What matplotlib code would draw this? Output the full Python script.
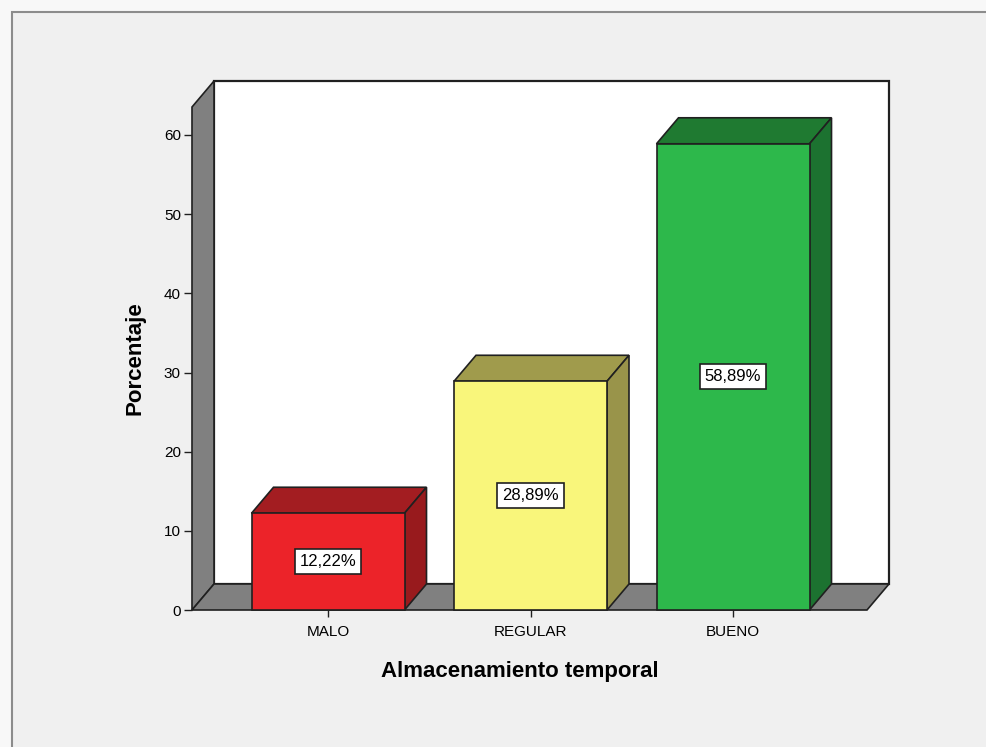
import matplotlib
matplotlib.use("Agg")
import matplotlib.pyplot as plt
from matplotlib.patches import Polygon, Rectangle

categories = ['MALO', 'REGULAR', 'BUENO']
values = [12.22, 28.89, 58.89]
value_labels = ['12,22%', '28,89%', '58,89%']
y_ticks = [0, 10, 20, 30, 40, 50, 60]

front_colors = ['#ec2329', '#f9f67b', '#2db84b']
top_colors = ['#a31d21', '#a09b4c', '#1f7a31']
side_colors = ['#981a1d', '#99944a', '#1c7230']

plt.rcParams['font.family'] = ['Liberation Sans', 'DejaVu Sans']

W, H = 986, 747
fig = plt.figure(figsize = (W / 100, H / 100), dpi = 100)
fig.patch.set_facecolor('#f8f8f8')

# outer panel, kept behind the axes
fig.patches.append(Rectangle((12 / W, -20 / H), 1.0, (H - 12 + 20) / H, transform = fig.transFigure,
                             facecolor = '#f0f0f0', edgecolor = '#8c8c8c', linewidth = 1.5, zorder = -10))

# front plane of the 3d box, in pixels
left, right, bottom, top = 192, 867, 610, 107
ax = fig.add_axes([left / W, (H - bottom) / H, (right - left) / W, (bottom - top) / H])
ax.set_facecolor('none')
for s in ax.spines.values():
    s.set_visible(False)

px_per_val = 475 / 60.0
spacing = 202.5
x0 = 1 - (328 - left) / spacing
x1 = 3 + (right - 733) / spacing
y_top = (bottom - top) / px_per_val
ax.set_xlim(x0, x1)
ax.set_ylim(0, y_top)

dx = 22 / spacing
dy = 26 / px_per_val
bar_w = 153 / spacing
edge = '#202020'

def poly(pts, fc, z, lw = 1.2):
    ax.add_patch(Polygon(pts, closed = True, facecolor = fc, edgecolor = edge, linewidth = lw,
                         clip_on = False, zorder = z))

# back wall, left wall, floor
poly([(x0 + dx, dy), (x1 + dx, dy), (x1 + dx, y_top + dy), (x0 + dx, y_top + dy)], 'white', 1, 1.6)
poly([(x0, 0), (x0, y_top), (x0 + dx, y_top + dy), (x0 + dx, dy)], '#808080', 2)
poly([(x0, 0), (x1, 0), (x1 + dx, dy), (x0 + dx, dy)], '#808080', 2)

for i, v in enumerate(values):
    c = i + 1
    a, b = c - bar_w / 2, c + bar_w / 2
    poly([(a, v), (b, v), (b + dx, v + dy), (a + dx, v + dy)], top_colors[i], 3)
    poly([(b, 0), (b + dx, dy), (b + dx, v + dy), (b, v)], side_colors[i], 3)
    poly([(a, 0), (b, 0), (b, v), (a, v)], front_colors[i], 4)
    ax.text(c, v / 2, value_labels[i], ha = 'center', va = 'center', fontsize = 12, zorder = 6,
            bbox = dict(boxstyle = 'square,pad=0.3', facecolor = 'white', edgecolor = '#202020', linewidth = 1.2))

ax.set_yticks(y_ticks)
ax.set_yticklabels([str(t) for t in y_ticks])
ax.set_xticks([1, 2, 3])
ax.set_xticklabels(categories)
ax.tick_params(axis = 'y', length = 6, width = 1, pad = 2, labelsize = 11, color = '#202020')
ax.tick_params(axis = 'x', length = 5, width = 1, pad = 6, labelsize = 11, color = '#202020')

ax.set_ylabel('Porcentaje', fontsize = 16, fontweight = 'bold', va = 'center')
ax.yaxis.set_label_coords((135 - left) / (right - left), (bottom - 358) / (bottom - top))
ax.set_xlabel('Almacenamiento temporal', fontsize = 16, fontweight = 'bold', va = 'center')
ax.xaxis.set_label_coords((520 - left) / (right - left), (bottom - 672) / (bottom - top))

fig.savefig('out.png', dpi = 100, facecolor = fig.get_facecolor())
